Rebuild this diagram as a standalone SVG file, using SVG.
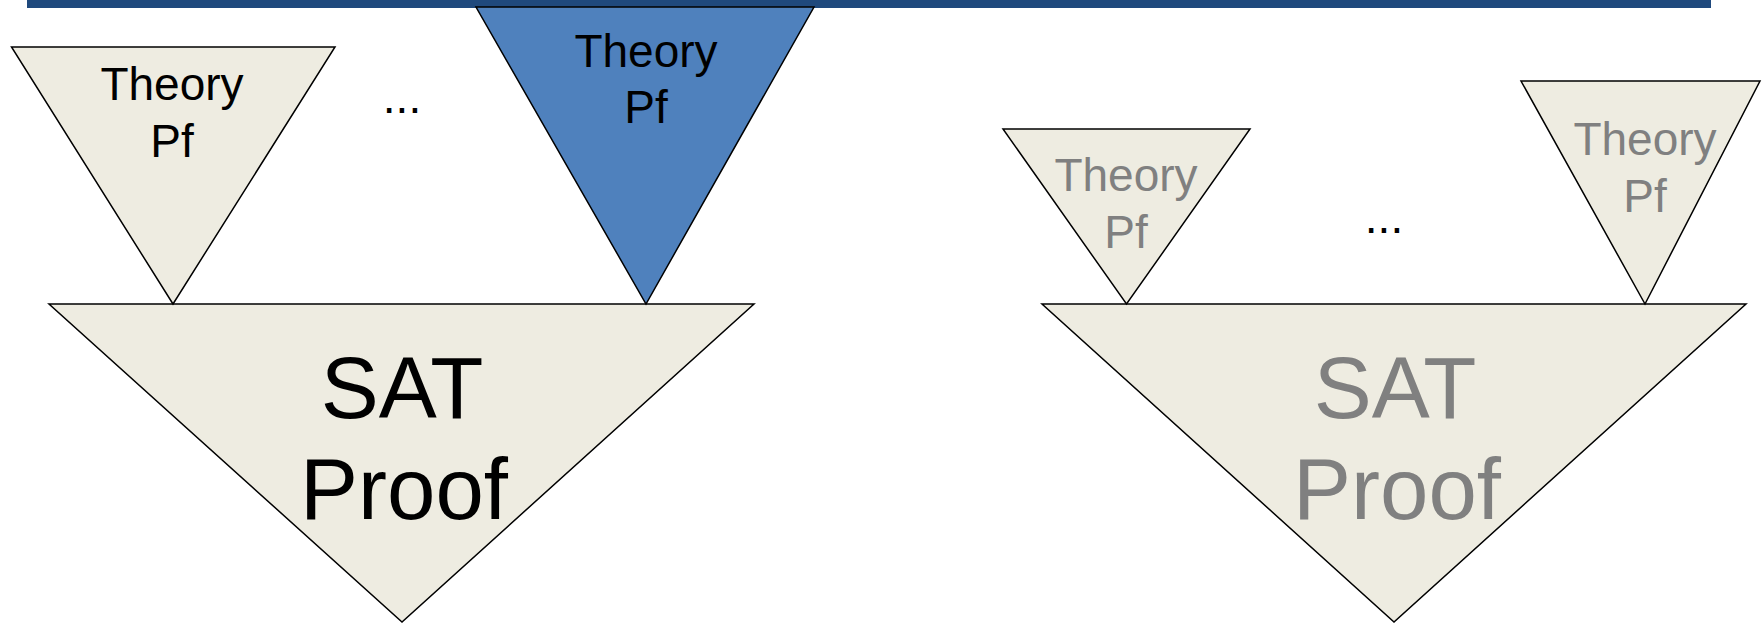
<svg xmlns="http://www.w3.org/2000/svg" width="1762" height="623" viewBox="0 0 1762 623">
<style>
.tri{fill:#EEECE1;stroke:#000;stroke-width:1.5;stroke-linejoin:miter}
.blue{fill:#4F81BD;stroke:#000;stroke-width:1.5}
.t{font-family:"Liberation Sans",Arial,sans-serif;text-anchor:middle}
.sm{font-size:46px}
.lg{font-size:87px}
.k{fill:#000}
.g{fill:#808080}
</style>
<rect id="topbar" x="27" y="0" width="1684" height="8" fill="#1F497D"/>
<g id="sat1">
<polygon class="tri" points="49,304 754,304 402,622"/>
<text class="t lg k" x="402" y="418">SAT</text>
<text class="t lg k" x="404" y="519">Proof</text>
</g>
<g id="theory1">
<polygon class="tri" points="11.5,47 335,47 173,304"/>
<text class="t sm k" x="172" y="100">Theory</text>
<text class="t sm k" x="172" y="157">Pf</text>
</g>
<g id="dots1"><text class="t sm k" x="402" y="113">...</text></g>
<g id="theory2">
<polygon class="blue" points="476,7 814,7 646,304"/>
<text class="t sm k" x="646" y="67">Theory</text>
<text class="t sm k" x="646" y="123">Pf</text>
</g>
<g id="sat2">
<polygon class="tri" points="1042,304 1746,304 1394,622"/>
<text class="t lg g" x="1395" y="418">SAT</text>
<text class="t lg g" x="1397" y="519">Proof</text>
</g>
<g id="theory3">
<polygon class="tri" points="1003,129 1250,129 1126.5,304"/>
<text class="t sm g" x="1126" y="191">Theory</text>
<text class="t sm g" x="1126" y="248">Pf</text>
</g>
<g id="dots2"><text class="t sm k" x="1384" y="233">...</text></g>
<g id="theory4">
<polygon class="tri" points="1521,81 1760,81 1645,304"/>
<text class="t sm g" x="1645" y="155">Theory</text>
<text class="t sm g" x="1645" y="212">Pf</text>
</g>
<g id="connectors"></g>
</svg>
